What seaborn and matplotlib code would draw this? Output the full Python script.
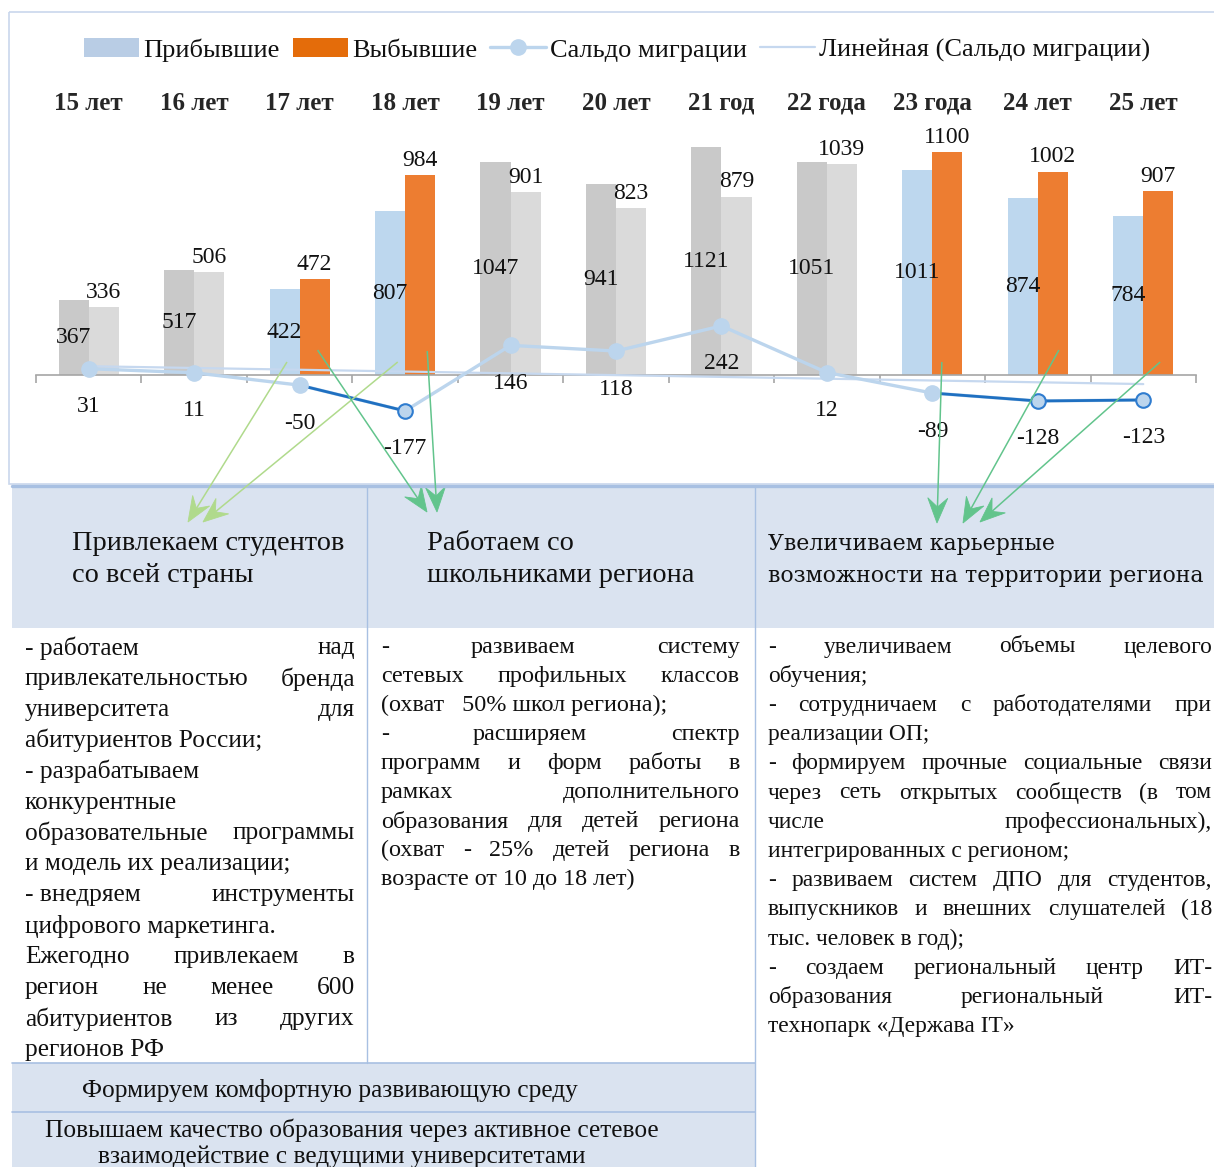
import numpy as np
import pandas as pd
import matplotlib
matplotlib.use("Agg")
import matplotlib.pyplot as plt
import seaborn as sns
from matplotlib.patches import Rectangle, Patch, Polygon
from matplotlib.lines import Line2D
from matplotlib.font_manager import FontProperties

# ---------------- data ----------------
ages = ["15 лет", "16 лет", "17 лет", "18 лет", "19 лет", "20 лет",
        "21 год", "22 года", "23 года", "24 лет", "25 лет"]
arrived = [367, 517, 422, 807, 1047, 941, 1121, 1051, 1011, 874, 784]
departed = [336, 506, 472, 984, 901, 823, 879, 1039, 1100, 1002, 907]
balance = [31, 11, -50, -177, 146, 118, 242, 12, -89, -128, -123]
accent_ages = ["17 лет", "18 лет", "23 года", "24 лет", "25 лет"]
series_names = ["Прибывшие", "Выбывшие", "Сальдо миграции",
                "Линейная (Сальдо миграции)"]

headers = [
    ["Привлекаем студентов", "со всей страны"],
    ["Работаем со", "школьниками региона"],
    ["Увеличиваем карьерные", "возможности на территории региона"],
]
# "|" separates the pieces of a justified line
col1_lines = [
    "- работаем|над",
    "привлекательностью|бренда",
    "университета|для",
    "абитуриентов России;",
    "- разрабатываем",
    "конкурентные",
    "образовательные|программы",
    "и модель их реализации;",
    "- внедряем|инструменты",
    "цифрового маркетинга.",
    "Ежегодно|привлекаем|в",
    "регион|не|менее|600",
    "абитуриентов|из|других",
    "регионов РФ",
]
col2_lines = [
    "-|развиваем|систему",
    "сетевых|профильных|классов",
    "(охват   50% школ региона);",
    "-|расширяем|спектр",
    "программ|и|форм|работы|в",
    "рамках|дополнительного",
    "образования|для|детей|региона",
    "(охват|-|25%|детей|региона|в",
    "возрасте от 10 до 18 лет)",
]
col3_lines = [
    "-|увеличиваем|объемы|целевого",
    "обучения;",
    "-|сотрудничаем|с|работодателями|при",
    "реализации ОП;",
    "-|формируем|прочные|социальные|связи",
    "через|сеть|открытых|сообществ|(в|том",
    "числе|профессиональных),",
    "интегрированных с регионом;",
    "-|развиваем|систем|ДПО|для|студентов,",
    "выпускников|и|внешних|слушателей|(18",
    "тыс. человек в год);",
    "-|создаем|региональный|центр|ИТ-",
    "образования|региональный|ИТ-",
    "технопарк «Держава IT»",
]
footer_rows = [
    "Формируем комфортную развивающую среду",
    "Повышаем качество образования через активное сетевое",
    "взаимодействие с ведущими университетами",
]

# ---------------- style ----------------
BLUE = "#bdd7ee"
ORANGE = "#ed7d31"
GRAY_DARK = "#c9c9c9"
GRAY_LIGHT = "#dadada"
LINE_LIGHT = "#bcd5ed"
LINE_DARK = "#1f70c1"
MARK_EDGE = "#2f7ccf"
TREND = "#c6d8ef"
HEAD_FILL = "#dae3f0"
BORDER = "#a8c0e2"
FRAME = "#c9d7ec"
GREEN_LIGHT = "#b0da8c"
GREEN = "#62c48c"
INK = "#111111"
SERIF = "Liberation Serif"

sns.set_theme(style="white")
plt.rcParams["font.family"] = [SERIF, "DejaVu Serif"]
plt.rcParams["text.color"] = INK

W, H = 1214, 1167
fig = plt.figure(figsize=(W / 100, H / 100), dpi=100)
fig.patch.set_facecolor("white")

# chart axes: baseline at y=375 px, 0.203 px per person
base_px, unit_px, top_px, bot_px = 375, 0.203, 130, 470
ax = fig.add_axes([36 / W, 1 - bot_px / H, 1160 / W, (bot_px - top_px) / H])
ax.patch.set_alpha(0)

df = pd.DataFrame({
    "Возраст": ages * 2,
    "Поток": [series_names[0]] * len(ages) + [series_names[1]] * len(ages),
    "Человек": arrived + departed,
})
sns.barplot(data=df, x="Возраст", y="Человек", hue="Поток", order=ages,
            hue_order=series_names[:2], palette=[BLUE, ORANGE], width=0.57,
            saturation=1, errorbar=None, legend=False, ax=ax, zorder=2)

for cont, gray in zip(ax.containers, [GRAY_DARK, GRAY_LIGHT]):
    for bar in cont:
        idx = int(round(bar.get_x() + bar.get_width() / 2))
        if ages[idx] not in accent_ages:
            bar.set_facecolor(gray)
        bar.set_linewidth(0)

ax.bar_label(ax.containers[0], fmt="{:.0f}", label_type="center",
             fontsize=17, color=INK)
ax.bar_label(ax.containers[1], fmt="{:.0f}", padding=3,
             fontsize=17, color=INK)

xs = np.arange(len(ages))
bal = np.array(balance)
trend = np.polyval(np.polyfit(xs, bal, 1), xs)
sns.lineplot(x=xs, y=trend, color=TREND, lw=1.6, ax=ax, zorder=3)
sns.lineplot(x=xs, y=bal, color=LINE_LIGHT, lw=2.4, ax=ax, zorder=4)

neg = bal < 0
for i in range(len(bal) - 1):
    if neg[i] and neg[i + 1]:
        ax.plot(xs[i:i + 2], bal[i:i + 2], color=LINE_DARK, lw=2.0,
                zorder=5, solid_capstyle="round")

strong = bal < -100
ax.plot(xs[~strong], bal[~strong], "o", ms=11, mfc=LINE_LIGHT,
        mec=LINE_LIGHT, ls="none", zorder=6)
ax.plot(xs[strong], bal[strong], "o", ms=10.5, mfc=LINE_LIGHT,
        mec=MARK_EDGE, mew=1.5, ls="none", zorder=6)

for x, v in zip(xs, balance):
    ax.annotate(f"{v}", (x, v), xytext=(0, -38), textcoords="offset pixels",
                ha="center", va="center", fontsize=17, color=INK, zorder=7)

ax.set_xlim(-0.5, len(ages) - 0.5)
ax.set_ylim(-(bot_px - base_px) / unit_px, (base_px - top_px) / unit_px)
for side in ["top", "left", "right"]:
    ax.spines[side].set_visible(False)
ax.spines["bottom"].set_position(("data", 0))
ax.spines["bottom"].set_color("#a6a6a6")
ax.spines["bottom"].set_linewidth(1.2)
ax.set_yticks([])
ax.set_xlabel("")
ax.set_ylabel("")
ax.set_xticks(xs)
ax.set_xticklabels(ages, fontweight="bold", fontsize=18)
ax.tick_params(axis="x", which="major", bottom=False, labelbottom=False,
               top=True, labeltop=True, length=0, pad=11)
ax.set_xticks(np.arange(-0.5, len(ages), 1), minor=True)
ax.tick_params(axis="x", which="minor", bottom=True, top=False, length=6,
               width=1.2, color="#a6a6a6", direction="out")

handles = [
    Patch(facecolor="#b9cde5", edgecolor="none"),
    Patch(facecolor="#e46c0a", edgecolor="none"),
    Line2D([], [], color=LINE_LIGHT, lw=2.4, marker="o", ms=11),
    Line2D([], [], color=TREND, lw=1.6),
]
ax.legend(handles, series_names, loc="center",
          bbox_to_anchor=(617 / W, 1 - 50 / H), bbox_transform=fig.transFigure,
          ncol=4, frameon=False, fontsize=19, handlelength=2.1,
          handleheight=0.75, handletextpad=0.15, columnspacing=0.5,
          borderaxespad=0)

# ---------------- overlay in pixel units ----------------
ov = fig.add_axes([0, 0, 1, 1], zorder=10)
ov.set_xlim(0, W)
ov.set_ylim(H, 0)
ov.set_axis_off()

ov.add_patch(Rectangle((9, 12), W, 472, fill=False, ec=FRAME, lw=1.2))
ov.add_patch(Rectangle((12, 487), W - 12, 628 - 487, fc=HEAD_FILL, ec="none"))
ov.add_patch(Rectangle((12, 1063), 755 - 12, H - 1063, fc=HEAD_FILL, ec="none"))
ov.plot([12, W], [486, 486], color=BORDER, lw=2.4)
ov.plot([367, 367], [486, 1063], color=BORDER, lw=1.0)
ov.plot([755, 755], [486, H], color=BORDER, lw=1.0)
ov.plot([12, 755], [1063, 1063], color=BORDER, lw=1.2)
ov.plot([12, 755], [1112, 1112], color=BORDER, lw=1.2)

# headers
for (l1, l2), x in zip(headers[:2], [72, 427]):
    ov.text(x, 544, l1, fontsize=20.4, ha="left", va="center", color=INK)
    ov.text(x, 576, l2, fontsize=20.4, ha="left", va="center", color=INK)
for k, line in enumerate(headers[2]):
    ov.text(768, 544 + 32 * k, line, fontsize=15.8, family="DejaVu Serif",
            ha="left", va="center", color=INK)

renderer = fig.canvas.get_renderer()


def paragraph(lines, left, right, y0, step, size):
    fp = FontProperties(family=SERIF, size=size)
    for k, line in enumerate(lines):
        y = y0 + k * step
        parts = line.split("|")
        if len(parts) == 1:
            ov.text(left, y, parts[0], fontproperties=fp, ha="left",
                    va="center", color=INK)
            continue
        widths = [renderer.get_text_width_height_descent(p, fp, ismath=False)[0]
                  for p in parts]
        gap = (right - left - sum(widths)) / (len(parts) - 1)
        x = left
        for p, w in zip(parts, widths):
            ov.text(x, y, p, fontproperties=fp, ha="left", va="center",
                    color=INK)
            x += w + gap


paragraph(col1_lines, 25, 355, 648, 30.9, 18.3)
paragraph(col2_lines, 381, 740, 647, 29.1, 17.4)
paragraph(col3_lines, 768, 1212, 647, 29.2, 16.9)

ov.text(330, 1090, footer_rows[0], fontsize=18.3, ha="center", va="center", color=INK)
ov.text(352, 1130, footer_rows[1], fontsize=18.3, ha="center", va="center", color=INK)
ov.text(342, 1157, footer_rows[2], fontsize=18.3, ha="center", va="center", color=INK)

# arrows from the chart bars into the table headers (stealth heads)
arrows = [
    ((1.88, 64), (188, 522), GREEN_LIGHT),
    ((2.93, 64), (203, 522), GREEN_LIGHT),
    ((2.17, 123), (427, 512), GREEN),
    ((3.21, 118), (437, 512), GREEN),
    ((8.09, 64), (937, 523), GREEN),
    ((9.20, 123), (963, 523), GREEN),
    ((10.16, 64), (980, 522), GREEN),
]
to_ov = ax.transData + ov.transData.inverted()
for start, end, col in arrows:
    s = np.array(to_ov.transform(start))
    tip = np.array(end, dtype=float)
    u = (tip - s) / np.hypot(*(tip - s))
    n = np.array([-u[1], u[0]])
    back = tip - u * 25
    notch = tip - u * 16
    ov.plot([s[0], notch[0]], [s[1], notch[1]], color=col, lw=1.1,
            solid_capstyle="butt")
    ov.add_patch(Polygon([tip, back + n * 10, notch, back - n * 10],
                         closed=True, fc=col, ec=col, lw=0.6))

fig.savefig("out.png", dpi=100)
